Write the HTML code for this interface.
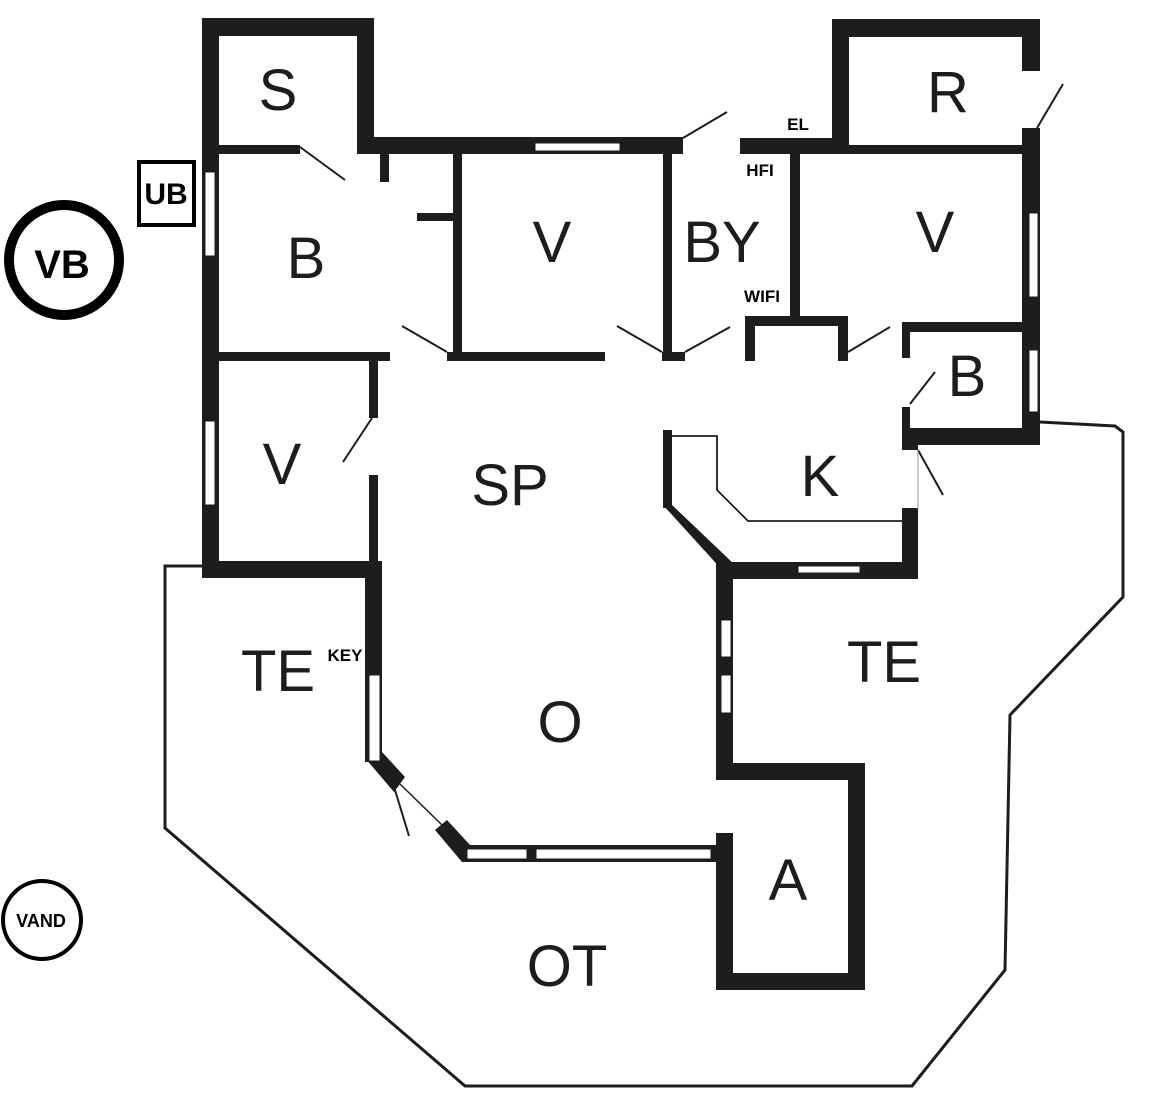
<!DOCTYPE html>
<html><head><meta charset="utf-8"><style>
html,body{margin:0;padding:0;background:#fff;}
svg{display:block;}
.L{font-family:"Liberation Sans",sans-serif;font-size:58px;fill:#1e1c1c;text-anchor:middle;}
.s{font-family:"Liberation Sans",sans-serif;font-size:17px;font-weight:bold;fill:#000;text-anchor:middle;}
</style></head><body>
<svg width="1151" height="1093" viewBox="0 0 1151 1093" xmlns="http://www.w3.org/2000/svg">
<g fill="#1e1c1c">
<!-- S room -->
<rect x="202" y="18" width="172" height="18"/>
<rect x="202" y="18" width="17" height="560"/>
<rect x="357" y="18" width="17" height="136"/>
<rect x="219" y="145" width="81" height="9"/>
<!-- top wall -->
<rect x="357" y="137" width="326" height="17"/>
<rect x="740" y="138" width="109" height="16"/>
<!-- R room -->
<rect x="832" y="19" width="208" height="18"/>
<rect x="832" y="19" width="17" height="135"/>
<rect x="1022" y="19" width="18" height="52"/>
<rect x="1022" y="128" width="18" height="317"/>
<rect x="849" y="145" width="173" height="9"/>
<!-- B stubs -->
<rect x="380" y="154" width="9" height="28"/>
<rect x="417" y="213" width="40" height="8"/>
<rect x="453" y="154" width="9" height="207"/>
<rect x="663" y="154" width="9" height="207"/>
<rect x="790" y="154" width="10" height="166"/>
<!-- row bottom walls -->
<rect x="219" y="352" width="171" height="9"/>
<rect x="447" y="352" width="158" height="9"/>
<rect x="662" y="352" width="23" height="9"/>
<rect x="745" y="316" width="103" height="10"/>
<rect x="745" y="316" width="10" height="45"/>
<rect x="838" y="316" width="10" height="45"/>
<rect x="902" y="322" width="120" height="10"/>
<rect x="902" y="322" width="8" height="36"/>
<!-- small B -->
<rect x="902" y="428" width="138" height="17"/>
<rect x="902" y="407" width="8" height="38"/>
<rect x="902" y="428" width="16" height="22"/>
<rect x="902" y="508" width="16" height="70"/>
<!-- K bottom -->
<rect x="716" y="562" width="202" height="17"/>
<!-- counter -->
<rect x="663" y="430" width="9" height="78"/>
<!-- V left lower -->
<rect x="369" y="361" width="9" height="57"/>
<rect x="369" y="475" width="9" height="90"/>
<rect x="202" y="561" width="180" height="17"/>
<!-- O left wall -->
<rect x="365" y="561" width="17" height="201"/>
<!-- A / right -->
<rect x="716" y="562" width="17" height="218"/>
<rect x="716" y="763" width="149" height="17"/>
<rect x="848" y="763" width="17" height="227"/>
<rect x="716" y="973" width="149" height="17"/>
<rect x="716" y="833" width="17" height="157"/>
<rect x="462" y="845" width="271" height="17"/>
</g>
<!-- diagonal walls -->
<polygon points="663,505 672,505 735,565 724,572" fill="#1e1c1c"/>
<polygon points="365,758 382,752 405,777 394,792" fill="#1e1c1c"/>
<polygon points="435,830 447,820 470,845 462,862" fill="#1e1c1c"/>
<line x1="400" y1="784" x2="442" y2="825" stroke="#1e1c1c" stroke-width="1.5"/>
<!-- windows -->
<g fill="#fff" stroke="#1e1c1c" stroke-width="1">
<rect x="535" y="143" width="85" height="8"/>
<rect x="205" y="172" width="10" height="84"/>
<rect x="205" y="421" width="10" height="84"/>
<rect x="1029" y="213" width="9" height="84"/>
<rect x="1029" y="350" width="9" height="62"/>
<rect x="798" y="566" width="62" height="7"/>
<rect x="369" y="675" width="11" height="86"/>
<rect x="721" y="620" width="10" height="37"/>
<rect x="721" y="675" width="10" height="38"/>
<rect x="467" y="849" width="60" height="10"/>
<rect x="536" y="849" width="175" height="10"/>
</g>
<!-- door leaves & thin lines -->
<g stroke="#1e1c1c" stroke-width="2" fill="none">
<line x1="300" y1="147" x2="345" y2="180"/>
<line x1="402" y1="326" x2="447" y2="352"/>
<line x1="617" y1="326" x2="662" y2="352"/>
<line x1="685" y1="352" x2="730" y2="327"/>
<line x1="683" y1="138" x2="727" y2="112"/>
<line x1="848" y1="352" x2="890" y2="327"/>
<line x1="1037" y1="128" x2="1063" y2="84"/>
<line x1="910" y1="404" x2="935" y2="372"/>
<line x1="918" y1="450" x2="943" y2="495"/>
<line x1="343" y1="462" x2="372" y2="418"/>
<line x1="395" y1="790" x2="409" y2="836"/>
<polyline points="672,436 717,436 717,490 748,521 902,521" stroke-width="1.8"/>
<line x1="918" y1="450" x2="918" y2="510" stroke-width="1" stroke="#999"/>
<polyline points="202,566 165,566 165,828 465,1086 912,1086 1005,970 1010,715 1123,597 1123,432 1115,426 1040,422" stroke-width="3"/>
</g>
<!-- UB, VB, VAND -->
<rect x="139" y="162" width="55" height="63" fill="none" stroke="#000" stroke-width="4"/>
<text x="166" y="204" style="font-family:'Liberation Sans',sans-serif;font-size:30px;font-weight:bold;text-anchor:middle">UB</text>
<circle cx="64" cy="260" r="55" fill="none" stroke="#000" stroke-width="10"/>
<text x="62" y="278" style="font-family:'Liberation Sans',sans-serif;font-size:40px;font-weight:bold;text-anchor:middle">VB</text>
<circle cx="42" cy="920" r="39" fill="none" stroke="#000" stroke-width="4"/>
<text x="41" y="927" style="font-family:'Liberation Sans',sans-serif;font-size:18px;font-weight:bold;text-anchor:middle">VAND</text>
<!-- labels -->
<text class="L" x="278" y="110">S</text>
<text class="L" x="306" y="278">B</text>
<text class="L" x="552" y="262">V</text>
<text class="L" x="722" y="262">BY</text>
<text class="L" x="935" y="252">V</text>
<text class="L" x="948" y="112">R</text>
<text class="L" x="967" y="396">B</text>
<text class="L" x="282" y="484">V</text>
<text class="L" x="510" y="505">SP</text>
<text class="L" x="820" y="496">K</text>
<text class="L" x="278" y="691">TE</text>
<text class="L" x="884" y="682">TE</text>
<text class="L" x="560" y="742">O</text>
<text class="L" x="788" y="900">A</text>
<text class="L" x="567" y="986">OT</text>
<text class="s" x="798" y="130">EL</text>
<text class="s" x="760" y="176">HFI</text>
<text class="s" x="762" y="302">WIFI</text>
<text class="s" x="345" y="661">KEY</text>
</svg>
</body></html>
